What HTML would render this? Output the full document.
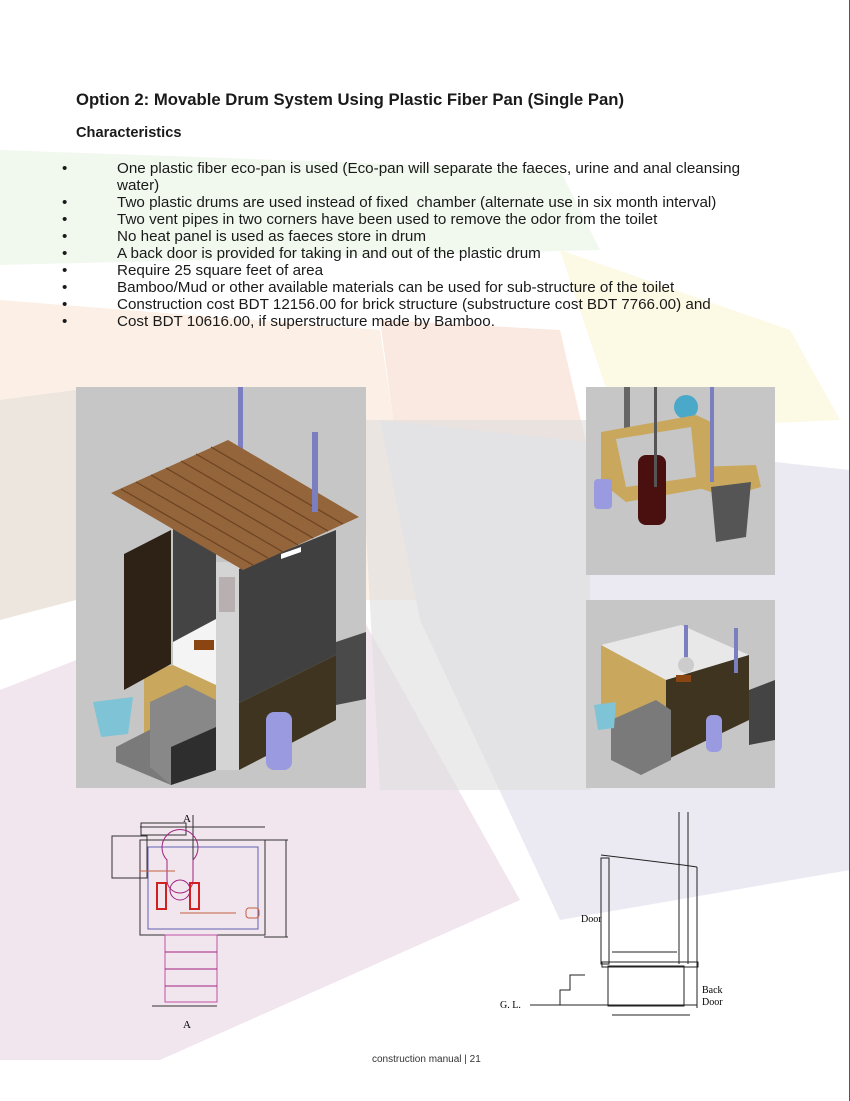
<!DOCTYPE html>
<html><head><meta charset="utf-8"><style>
body{margin:0;background:#fff}
#p{position:relative;width:850px;height:1101px;overflow:hidden;background:#fff;font-family:"Liberation Sans",Arial,sans-serif;color:#1a1a1a}
.t{position:absolute;white-space:nowrap}
ul{position:absolute;left:0;top:160px;margin:0;padding:0;list-style:none;font-size:15.2px;line-height:17px}
li{position:relative;padding-left:117px}
li:before{content:"•";position:absolute;left:62px}
svg{position:absolute;left:0;top:0}
</style></head><body><div id="p">
<svg width="850" height="1101">
<polygon points="0,150 560,170 600,250 0,265" fill="#eef6ea" opacity=".8"/>
<polygon points="560,250 790,330 840,420 620,430" fill="#fcf9e4"/>
<polygon points="0,300 380,330 420,600 0,600" fill="#fcefe5"/>
<polygon points="380,320 560,330 590,460 400,470" fill="#f9e3da" opacity=".8"/>
<polygon points="380,420 850,470 850,870 560,920 420,620" fill="#ebeaf3"/>
<polygon points="0,690 330,560 520,900 160,1060 0,1060" fill="#f2e6ee"/>
<polygon points="360,420 590,420 590,790 380,790" fill="#dedede" opacity=".6"/>
<polygon points="0,400 76,390 76,600 0,620" fill="#ece6de"/>
<rect x="849" y="0" width="1" height="1101" fill="#555"/>
</svg>
<div class="t" style="left:76px;top:90px;font-size:16.7px;font-weight:bold">Option 2: Movable Drum System Using Plastic Fiber Pan (Single Pan)</div>
<div class="t" style="left:76px;top:125px;font-size:14.6px;font-weight:bold">Characteristics</div>
<ul>
<li>One plastic fiber eco-pan is used (Eco-pan will separate the faeces, urine and anal cleansing<br>water)</li>
<li>Two plastic drums are used instead of fixed&nbsp; chamber (alternate use in six month interval)</li>
<li>Two vent pipes in two corners have been used to remove the odor from the toilet</li>
<li>No heat panel is used as faeces store in drum</li>
<li>A back door is provided for taking in and out of the plastic drum</li>
<li>Require 25 square feet of area</li>
<li>Bamboo/Mud or other available materials can be used for sub-structure of the toilet</li>
<li>Construction cost BDT 12156.00 for brick structure (substructure cost BDT 7766.00) and</li>
<li>Cost BDT 10616.00, if superstructure made by Bamboo.</li>
</ul>
<svg style="left:76px;top:387px" width="290" height="401">
<rect width="290" height="401" fill="#c6c6c6"/>
<polygon points="260,255 290,245 290,312 260,318" fill="#4a4a4a"/>
<rect x="162" y="0" width="5" height="80" fill="#7b7fc0"/>
<polygon points="163,182 260,143 260,268 163,316" fill="#404040"/>
<polygon points="163,316 260,268 260,333 163,383" fill="#3e3420"/>
<polygon points="97,140 140,125 140,255 97,262" fill="#444"/>
<polygon points="97,255 140,232 140,298 97,280" fill="#f4f4f4"/>
<polygon points="68,285 97,278 140,298 140,383 68,350" fill="#c9a85e"/>
<rect x="140" y="175" width="23" height="208" fill="#d4d4d4"/>
<rect x="143" y="190" width="16" height="35" fill="#b8b0b0"/>
<rect x="118" y="253" width="20" height="10" fill="#8b4513"/>
<polygon points="48,167 95,143 95,277 48,303" fill="#2e2216"/>
<polygon points="40,360 95,332 140,352 140,383 95,398 40,375" fill="#7a7a7a"/>
<polygon points="74,315 110,298 140,313 140,383 95,398 74,380" fill="#888"/>
<polygon points="95,398 140,383 140,340 95,360" fill="#2e2e2e"/>
<polygon points="17,315 57,310 52,347 25,350" fill="#7fc3d6"/>
<rect x="190" y="325" width="26" height="58" rx="8" fill="#9a9ae0"/>
<polygon points="35,106 152,53 283,130 167,183" fill="#94643a"/>
<g stroke="#6b4322" stroke-width="1.2">
<line x1="45" y1="102" x2="177" y2="178"/><line x1="60" y1="95" x2="192" y2="171"/><line x1="75" y1="88" x2="207" y2="165"/><line x1="90" y1="81" x2="222" y2="158"/><line x1="105" y1="74" x2="237" y2="151"/><line x1="120" y1="67" x2="252" y2="144"/><line x1="135" y1="60" x2="267" y2="137"/></g>
<rect x="236" y="45" width="6" height="80" fill="#7b7fc0"/>
<polygon points="205,167 225,160 225,165 205,172" fill="#fff"/>
</svg>
<svg style="left:586px;top:387px" width="189" height="188">
<rect width="189" height="188" fill="#c6c6c6"/>
<rect x="38" y="0" width="6" height="60" fill="#666"/>
<circle cx="100" cy="20" r="12" fill="#4aa8c8"/>
<polygon points="15,45 110,28 125,35 125,100 40,115 15,95" fill="#c9a85e"/>
<polygon points="30,52 105,40 110,90 40,100" fill="#c6c6c6"/>
<rect x="52" y="68" width="28" height="70" rx="8" fill="#4a1010"/>
<polygon points="110,80 170,78 175,100 140,110 110,100" fill="#c9a85e"/>
<polygon points="125,100 165,95 160,150 130,155" fill="#555"/>
<rect x="8" y="92" width="18" height="30" rx="4" fill="#9a9ae0"/>
<rect x="68" y="0" width="3" height="100" fill="#555"/><rect x="124" y="0" width="4" height="95" fill="#7b7fc0"/>
</svg>
<svg style="left:586px;top:600px" width="189" height="188">
<rect width="189" height="188" fill="#c6c6c6"/>
<polygon points="163,90 189,80 189,140 163,145" fill="#444"/>
<polygon points="15,45 95,25 163,55 80,80" fill="#e8e8e8"/>
<polygon points="15,45 80,80 80,160 15,120" fill="#c9a85e"/>
<polygon points="80,80 163,55 163,120 80,160" fill="#3e3420"/>
<rect x="98" y="25" width="4" height="45" fill="#7b7fc0"/><rect x="148" y="28" width="4" height="45" fill="#7b7fc0"/>
<polygon points="25,120 70,100 85,110 85,160 55,175 25,160" fill="#7a7a7a"/>
<polygon points="8,105 30,102 28,128 12,130" fill="#7fc3d6"/>
<rect x="120" y="115" width="16" height="37" rx="6" fill="#9a9ae0"/>
<circle cx="100" cy="65" r="8" fill="#ccc"/><rect x="90" y="75" width="15" height="7" fill="#8b4513"/>
</svg>
<svg style="left:0;top:0" width="850" height="1101" font-family="Liberation Serif" >
<g fill="none" stroke="#333" stroke-width="1">
<rect x="141" y="823" width="45" height="12"/>
<rect x="140" y="840" width="125" height="95"/>
<rect x="148" y="847" width="110" height="82" stroke="#6060b0"/>
<rect x="112" y="836" width="35" height="42"/>
<line x1="264" y1="840" x2="288" y2="840"/><line x1="264" y1="937" x2="288" y2="937"/><line x1="286" y1="840" x2="286" y2="937"/>
<line x1="140" y1="827" x2="265" y2="827"/><line x1="193" y1="815" x2="193" y2="880"/>
</g>
<g fill="none" stroke="#a02080"><path d="M167,880 v-20 a18,18 0 1 1 26,0 v20 a13,13 0 0 1 -26,0z" stroke-width="1"/><circle cx="180" cy="890" r="10"/>
<rect x="157" y="883" width="9" height="26" stroke="#d02020" stroke-width="2"/><rect x="190" y="883" width="9" height="26" stroke="#d02020" stroke-width="2"/>
<rect x="165" y="935" width="52" height="67" stroke="#c050a0"/><line x1="165" y1="952" x2="217" y2="952"/><line x1="165" y1="969" x2="217" y2="969"/><line x1="165" y1="986" x2="217" y2="986"/></g>
<g stroke="#c06040"><line x1="140" y1="871" x2="175" y2="871"/><line x1="180" y1="913" x2="236" y2="913"/></g>
<rect x="246" y="908" width="13" height="10" rx="3" fill="none" stroke="#c06040"/>
<line x1="152" y1="1006" x2="217" y2="1006" stroke="#333"/>
<text x="183" y="822" font-size="11">A</text><text x="183" y="1028" font-size="11">A</text>
<g fill="none" stroke="#222"><polyline points="601,855 683,865 697,867"/><rect x="601" y="858" width="8" height="106"/><line x1="679" y1="812" x2="679" y2="964"/><line x1="688" y1="812" x2="688" y2="964"/><line x1="697" y1="867" x2="697" y2="1008"/>
<rect x="608" y="966" width="76" height="40"/><rect x="602" y="962" width="96" height="5"/>
<polyline points="560,1005 560,990 570,990 570,975 585,975"/><line x1="530" y1="1005" x2="697" y2="1005"/><line x1="612" y1="952" x2="677" y2="952"/><line x1="612" y1="1015" x2="690" y2="1015"/></g>
<text x="581" y="922" font-size="10">Door</text><text x="500" y="1008" font-size="10">G. L.</text><text x="702" y="993" font-size="10">Back</text><text x="702" y="1005" font-size="10">Door</text>
<text x="372" y="1062" font-family="Liberation Sans" font-size="10" fill="#333">construction manual | 21</text>
</svg>
</div></body></html>
